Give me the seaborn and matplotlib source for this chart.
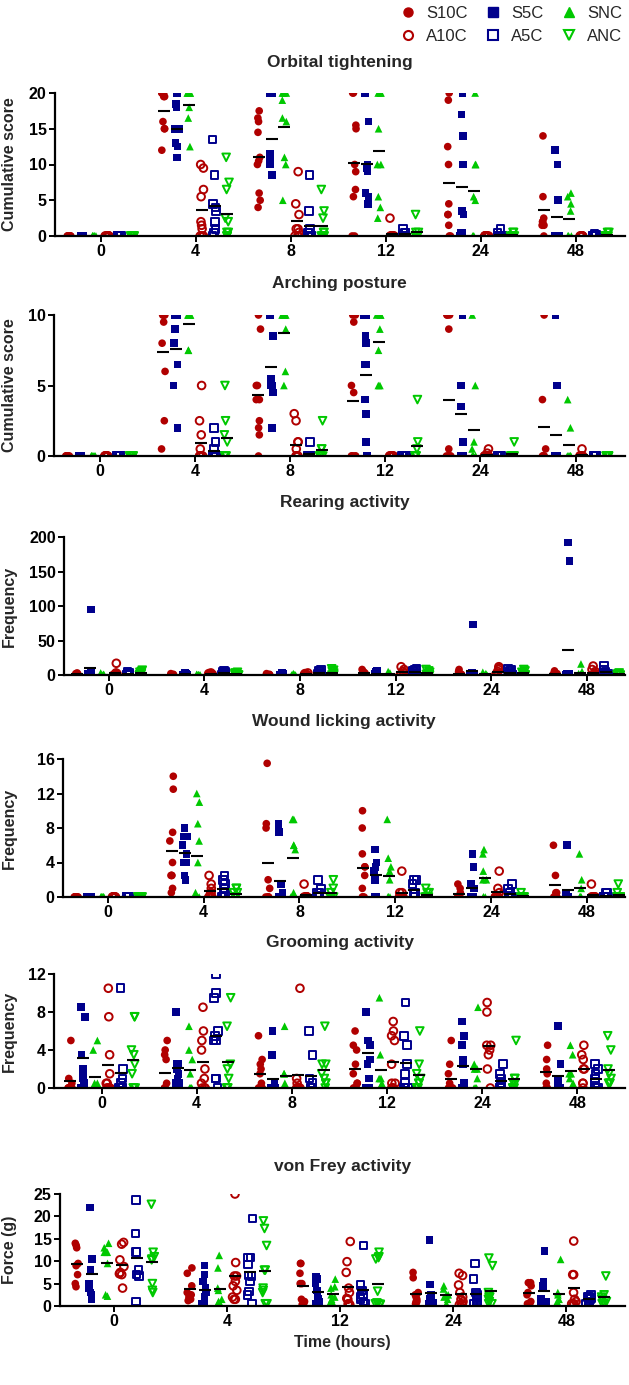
import numpy as np
import pandas as pd
import matplotlib
matplotlib.use("Agg")
import matplotlib.pyplot as plt
from matplotlib.lines import Line2D
import seaborn as sns

groups = ["S10C", "S5C", "SNC", "A10C", "A5C", "ANC"]
times6 = ["0", "4", "8", "12", "24", "48"]
times5 = ["0", "4", "12", "24", "48"]
Z8 = [0, 0, 0, 0, 0, 0, 0, 0]

# ---------------- Orbital tightening (per group: list per time point) ----------------
orb_S10C = [Z8, [20, 20, 20, 19.5, 19.5, 16, 15, 15, 12], [17.5, 16.5, 16, 14.5, 11, 10.5, 10, 6, 5, 4],
            [20, 20, 15.5, 15, 10, 9, 6.5, 5.5, 0, 0], [20, 19, 12.5, 10, 4.5, 3, 3, 1.5, 0, 0],
            [14, 5.5, 2.5, 2, 2, 1.5, 1.5, 0]]
orb_S5C = [Z8, [20, 18.5, 18, 15, 15, 15, 13, 12.5, 11, 11], [20, 20, 20, 11.5, 11, 10.5, 10, 10, 8.5],
           [20, 16, 10, 9.5, 9, 6, 5.5, 4.5], [20, 17, 14, 10, 3.5, 3, 0.5, 0.5, 0, 0],
           [12, 10, 5, 0, 0, 0, 0, 0, 0, 0]]
orb_SNC = [Z8, [20, 20, 20, 20, 20, 18, 16.5, 12.5], [20, 20, 20, 19, 16.5, 16, 11, 10, 5],
           [20, 20, 20, 15, 10, 10, 5.5, 4, 2.5], [20, 10, 10, 5.5, 5, 0, 0, 0],
           [6, 5.5, 4.5, 3.5, 0, 0, 0, 0]]
orb_A10C = [Z8, [10, 9.5, 6.5, 5.5, 2, 1.5, 1, 0, 0, 0], [9, 4.5, 3, 1, 1, 0.5, 0, 0, 0],
            [2.5, 0, 0, 0, 0, 0, 0, 0], Z8, Z8]
orb_A5C = [Z8, [13.5, 8.5, 4.5, 4, 3.5, 2, 1, 0.5, 0], [8.5, 3.5, 1, 0.5, 0.5, 0, 0, 0, 0, 0],
           [1, 0.5, 0.5, 0, 0, 0, 0, 0], [1, 0.5, 0, 0, 0, 0, 0, 0], [0.3, 0.2, 0, 0, 0, 0, 0, 0]]
orb_ANC = [Z8, [11, 7.5, 6.5, 2.5, 2, 0.5, 0.5, 0, 0, 0], [6.5, 3.5, 2.5, 0.5, 0.5, 0, 0, 0, 0, 0],
           [3, 0.5, 0.5, 0, 0, 0, 0, 0], [0.5, 0.5, 0, 0, 0, 0, 0, 0], [0.5, 0.5, 0, 0, 0, 0, 0, 0]]

# ---------------- Arching posture ----------------
arc_S10C = [Z8, [10, 10, 10, 10, 9.5, 8, 6, 2.5, 0.5], [10, 9, 5, 5, 4, 4, 2.5, 2, 1.5, 0],
            [10, 10, 9.5, 5, 4.5, 0, 0, 0, 0, 0], [10, 10, 10, 9, 0.5, 0, 0, 0, 0, 0],
            [10, 4, 0.5, 0, 0, 0, 0]]
arc_S5C = [Z8, [10, 10, 10, 9, 8, 6.5, 5, 2], [10, 10, 8.5, 5.5, 5, 5, 4.5, 2],
           [10, 10, 8.5, 8, 6.5, 6.5, 4, 3, 1, 0], [10, 10, 5, 3.5, 1, 0, 0, 0, 0, 0],
           [10, 5, 0, 0, 0, 0, 0, 0, 0, 0]]
arc_SNC = [Z8, [10, 10, 10, 10, 10, 10, 7.5, 7.5], [10, 10, 10, 10, 10, 9, 6, 5],
           [10, 10, 10, 9, 7.5, 5, 5], [10, 5, 1, 0.5, 0, 0, 0, 0, 0], [4, 2, 0, 0, 0, 0, 0, 0]]
arc_A10C = [Z8, [5, 2.5, 1.5, 0.5, 0, 0, 0, 0, 0, 0], [3, 2.5, 1, 1, 0.5, 0, 0, 0, 0, 0],
            Z8, [0.5, 0.2, 0, 0, 0, 0, 0, 0], [0.5, 0, 0, 0, 0, 0, 0, 0]]
arc_A5C = [Z8, [2, 1, 0.5, 0, 0, 0, 0, 0, 0, 0], [1, 0, 0, 0, 0, 0, 0, 0], Z8, Z8, Z8]
arc_ANC = [Z8, [5, 2.5, 1.5, 1, 0, 0, 0, 0], [2.5, 0.5, 0.5, 0, 0, 0, 0, 0],
           [4, 1, 0.5, 0, 0, 0, 0, 0], [1, 0, 0, 0, 0, 0, 0, 0], Z8]

# ---------------- Rearing activity ----------------
rea_S10C = [[3, 2, 1, 1, 0, 0, 0, 0], [2, 1, 0, 0, 0, 0, 0, 0], [2, 1, 0, 0, 0, 0, 0, 0],
            [8, 5, 3, 2, 1, 0, 0, 0], [8, 5, 2, 1, 0, 0, 0, 0], [6, 4, 2, 0, 0, 0, 0, 0]]
rea_S5C = [[95, 3, 2, 1, 1, 0, 0, 0, 0, 0], [3, 2, 1, 0, 0, 0, 0, 0], [3, 1, 0, 0, 0, 0, 0, 0],
           [6, 4, 2, 1, 0, 0, 0, 0], [73, 3, 1, 0, 0, 0, 0, 0, 0, 0, 0, 0],
           [192, 165, 2, 1, 0, 0, 0, 0, 0, 0]]
rea_SNC = [[3, 1, 0, 0, 0, 0, 0, 0], [1, 0, 0, 0, 0, 0, 0, 0], [2, 0, 0, 0, 0, 0, 0, 0],
           [5, 3, 1, 0, 0, 0, 0, 0], [4, 2, 0, 0, 0, 0, 0, 0], [16, 5, 2, 0, 0, 0, 0, 0]]
rea_A10C = [[17, 3, 2, 2, 1, 0, 0, 0], [3, 2, 1, 0, 0, 0, 0, 0], [3, 2, 1, 0, 0, 0, 0, 0],
            [12, 8, 5, 3, 1, 0, 0, 0], [12, 10, 8, 5, 3, 1, 0, 0], [13, 8, 5, 2, 0, 0, 0, 0]]
rea_A5C = [[4, 3, 2, 1, 0, 0, 0, 0], [6, 5, 4, 2, 1, 0, 0, 0], [8, 6, 4, 2, 1, 0, 0, 0],
           [9, 8, 6, 4, 2, 1, 0, 0], [9, 8, 6, 3, 1, 0, 0, 0], [14, 8, 5, 2, 1, 0, 0, 0]]
rea_ANC = [[7, 5, 4, 3, 2, 1, 0, 0], [4, 3, 2, 1, 0, 0, 0, 0], [9, 7, 5, 3, 1, 0, 0, 0],
           [8, 6, 4, 2, 1, 0, 0, 0], [8, 6, 4, 2, 0, 0, 0, 0], [3, 2, 1, 0, 0, 0, 0, 0]]

# ---------------- Wound licking activity ----------------
wou_S10C = [Z8, [14, 12.5, 7.5, 6.5, 4, 2.5, 2.5, 2.5, 1, 0.5], [15.5, 8.5, 8, 2, 1, 0, 0, 0, 0],
            [10, 8, 5, 3.5, 3.5, 2.5, 1, 0, 0, 0], [1.5, 1, 0.5, 0, 0, 0, 0, 0],
            [6, 2.5, 0.5, 0.5, 0, 0, 0]]
wou_S5C = [Z8, [8, 7, 7, 6, 5, 4, 4, 2.5, 2], [8.5, 7.5, 1.5, 0.5, 0, 0, 0, 0, 0, 0],
           [5.5, 4, 3.5, 3, 2.5, 2, 2, 0, 0], [5, 3.5, 1.5, 1, 0, 0, 0, 0, 0, 0],
           [6, 0.5, 0.5, 0, 0, 0, 0, 0, 0]]
wou_SNC = [Z8, [12, 11, 8.5, 6.5, 4, 0.5, 0, 0, 0], [9, 9, 6, 6, 5.5, 0.5, 0, 0],
           [9, 4.5, 3.5, 3, 2, 0, 0, 0, 0], [5.5, 5, 3, 2, 2, 0, 0, 0], [5, 2, 1, 0, 0, 0, 0, 0]]
wou_A10C = [Z8, [2.5, 1.5, 1, 0.5, 0.5, 0, 0, 0, 0], [1.5, 0, 0, 0, 0, 0, 0, 0],
            [3, 0.5, 0.5, 0, 0, 0, 0, 0], [3, 1, 0.5, 0, 0, 0, 0, 0], [1.5, 0, 0, 0, 0, 0, 0, 0]]
wou_A5C = [Z8, [2.5, 2, 1.5, 1, 0.5, 0.5, 0, 0, 0], [2, 1, 0.5, 0.5, 0, 0, 0, 0],
           [2, 2, 1.5, 0.5, 0.5, 0, 0, 0], [1.5, 1, 0.5, 0, 0, 0, 0, 0], [0.5, 0.5, 0, 0, 0, 0, 0, 0]]
wou_ANC = [Z8, [1, 1, 0.5, 0.5, 0, 0, 0, 0], [2, 1, 0.5, 0, 0, 0, 0, 0],
           [1, 0.5, 0.5, 0, 0, 0, 0, 0], [0.5, 0, 0, 0, 0, 0, 0, 0], [1.5, 0.5, 0, 0, 0, 0, 0, 0]]

# ---------------- Grooming activity ----------------
gro_S10C = [[5, 1, 0.5, 0, 0, 0, 0, 0, 0], [5, 4, 3.5, 3, 0.5, 0, 0, 0, 0, 0],
            [5.5, 3, 2.5, 2, 1.5, 0.5, 0, 0, 0, 0], [6, 4.5, 4, 2.5, 1.5, 0.5, 0.5, 0, 0, 0],
            [5, 2.5, 1.5, 0.5, 0, 0, 0, 0, 0, 0], [4.5, 3, 2, 1.5, 0.5, 0, 0]]
gro_S5C = [[8.5, 7.5, 3.5, 3.5, 2, 1.5, 1, 0.5, 0], [8, 2.5, 2.5, 2, 1.5, 1, 0.5, 0.5, 0],
           [6, 3.5, 0.5, 0, 0, 0, 0, 0, 0, 0], [8, 8, 5, 4.5, 4.5, 3, 2.5, 1, 0, 0],
           [7, 5.5, 4.5, 3, 2.5, 0.5, 0, 0, 0, 0], [6.5, 2.5, 1, 0.5, 0.5, 0, 0, 0, 0]]
gro_SNC = [[5, 4, 0.5, 0.5, 0, 0, 0, 0, 0], [6.5, 4, 3, 1.5, 0, 0, 0, 0],
           [6.5, 1.5, 1.5, 0.5, 0, 0, 0, 0], [9.5, 3.5, 1, 1, 0.5, 0, 0, 0],
           [8.5, 2.5, 2, 2, 1, 0, 0, 0], [4.5, 3.5, 1.5, 1.5, 1, 0.5, 0]]
gro_A10C = [[10.5, 7.5, 3.5, 1.5, 0.5, 0.5, 0, 0, 0, 0], [8.5, 6, 5, 4, 2, 1, 0.5, 0, 0, 0],
            [10.5, 1, 0.5, 0, 0, 0, 0, 0, 0], [7, 6, 5.5, 5, 2.5, 0.5, 0.5, 0, 0, 0],
            [9, 8, 4.5, 4.5, 4, 3.5, 2, 0], [4.5, 3.5, 3, 2, 2, 0.5, 0.5, 0]]
gro_A5C = [[10.5, 2, 1, 0.5, 0, 0, 0, 0, 0], [12, 10, 9.5, 6, 5.5, 5, 5, 1, 1, 0],
           [6, 3.5, 1, 0.5, 0, 0, 0, 0, 0], [9, 5.5, 4.5, 2.5, 1.5, 0.5, 0, 0, 0],
           [2.5, 1.5, 1, 0.5, 0.5, 0, 0, 0], [2.5, 2, 1.5, 1, 0.5, 0, 0, 0]]
gro_ANC = [[7.5, 7.5, 4, 3.5, 2.5, 1.5, 0, 0, 0], [9.5, 6.5, 2.5, 2, 1, 0, 0, 0],
           [6.5, 2.5, 2.5, 1.5, 1, 0.5, 0.5, 0], [6, 2.5, 1.5, 1, 0.5, 0.5, 0, 0, 0],
           [5, 1, 1, 0.5, 0.5, 0, 0, 0], [5.5, 4, 2, 1.5, 1, 0.5, 0.5, 0.5]]

# ---------------- von Frey activity (time points 0, 4, 12, 24, 48) ----------------
vf_S10C = [[13.5, 14, 13, 9.5, 9, 7, 5, 4.3], [8.5, 7.3, 4.5, 3, 2.5, 2, 1.5, 1.2],
           [9.5, 9.5, 7.3, 5, 5, 1.5, 1, 0.5, 0.3], [7.5, 6.3, 3, 2.5, 2, 1.5, 1, 1, 0.5, 0.5],
           [5.2, 5.2, 4.5, 3, 2.5, 1, 0.5, 0.5]]
vf_S5C = [[22, 10.5, 8, 5, 4, 3, 2.5, 1.5], [9, 7, 5.5, 4, 3, 2, 1, 0.5, 0.5],
          [6.5, 6, 5, 3.5, 2.5, 1.5, 1, 1, 0.5], [14.8, 4.8, 2.5, 1.5, 1, 0.8, 0.5, 0.5, 0.5],
          [12.3, 5.5, 4.5, 1.5, 1, 0.5, 0.5, 0.3]]
vf_SNC = [[14, 13, 12, 12, 12, 9.5, 2.5, 2.2], [11.3, 8.5, 4, 3.5, 1.5, 1, 0.6, 0.5],
          [6, 4.3, 4, 2.5, 2, 1.5, 1, 0.5], [4.5, 3.8, 2.5, 2.5, 2, 1.5, 0.5],
          [10.4, 3, 2.5, 1.5, 1, 0.5, 0.5]]
vf_A10C = [[14.2, 13.8, 10.3, 8.8, 7.5, 7.2, 7, 4], [25, 9.7, 6.7, 6.7, 5.5, 4.5, 3.5, 2, 1.5, 1.5],
           [14.4, 9.9, 7.5, 4, 3, 1.7, 1.5, 0.5, 0.5, 0.3], [7.3, 6.8, 4.7, 3, 2, 1.5, 1, 0.5, 0.4, 0.3],
           [14.5, 7, 7, 3, 1.5, 1, 0.5, 0.5, 0.3]]
vf_A5C = [[23.7, 16.2, 12, 12, 8, 7, 6.7, 1], [19.5, 10.8, 10.8, 9.3, 6.8, 6.7, 5.5, 3.2, 2.5, 0.5],
          [13.5, 4.7, 3.5, 2.5, 2, 1.5, 1, 0.5], [9.5, 6, 3, 2.5, 2, 1.5, 1, 0.5, 0.5, 0.3],
          [2.5, 2, 2, 1.8, 1.5, 1, 0.5, 0.5]]
vf_ANC = [[22.7, 12, 11, 10.5, 10.3, 5, 3.5, 3], [19, 17.3, 13.5, 8, 8, 4, 3.5, 3, 0.5, 0.5],
          [12, 11, 10.8, 10.5, 3.3, 0.7, 0.5, 0.5, 0.4, 0.3], [10.7, 9, 3, 2.5, 2, 2, 1.5, 1, 0.5, 0.5],
          [6.7, 2.5, 2, 1.5, 1.5, 1, 0.5, 0.5]]

# ---------------- styling ----------------
sns.set_style("ticks")
plt.rcParams["font.family"] = ["Liberation Sans", "DejaVu Sans"]

colors = {"S10C": "#B00000", "A10C": "#B00000", "S5C": "#00008C", "A5C": "#00008C",
          "SNC": "#00C800", "ANC": "#00C800"}
markers = {"S10C": "o", "S5C": "s", "SNC": "^", "A10C": "o", "A5C": "s", "ANC": "v"}
open_groups = {"A10C", "A5C", "ANC"}


def long_df(times, series):
    rows = []
    for g, per_time in zip(groups, series):
        for t, vals in zip(times, per_time):
            for v in vals:
                rows.append((t, g, v))
    return pd.DataFrame(rows, columns=["time", "group", "value"])


W, H = 629, 1385
fig = plt.figure(figsize=(W / 100, H / 100), dpi=100)

panels = [
    ("Orbital tightening", "Cumulative score", times6,
     [orb_S10C, orb_S5C, orb_SNC, orb_A10C, orb_A5C, orb_ANC], [0, 5, 10, 15, 20],
     55, 93, 236, (-0.48, 5.52), 62),
    ("Arching posture", "Cumulative score", times6,
     [arc_S10C, arc_S5C, arc_SNC, arc_A10C, arc_A5C, arc_ANC], [0, 5, 10],
     54, 315, 456, (-0.48, 5.52), 283),
    ("Rearing activity", "Frequency", times6,
     [rea_S10C, rea_S5C, rea_SNC, rea_A10C, rea_A5C, rea_ANC], [0, 50, 100, 150, 200],
     64, 537, 675, (-0.47, 5.40), 502),
    ("Wound licking activity", "Frequency", times6,
     [wou_S10C, wou_S5C, wou_SNC, wou_A10C, wou_A5C, wou_ANC], [0, 4, 8, 12, 16],
     63, 759, 897, (-0.47, 5.40), 721),
    ("Grooming activity", "Frequency", times6,
     [gro_S10C, gro_S5C, gro_SNC, gro_A10C, gro_A5C, gro_ANC], [0, 4, 8, 12],
     54, 974, 1088, (-0.50, 5.50), 942),
    ("von Frey activity", "Force (g)", times5,
     [vf_S10C, vf_S5C, vf_SNC, vf_A10C, vf_A5C, vf_ANC], [0, 5, 10, 15, 20, 25],
     60, 1194, 1306, (-0.48, 4.52), 1166),
]

np.random.seed(3)
right_px = 625
for i, (title, ylab, times, series, yticks, left, top, zero, xlim, title_y) in enumerate(panels):
    ax = fig.add_axes([left / W, 1 - zero / H, (right_px - left) / W, (zero - top) / H])
    df = long_df(times, series)
    for g in groups:
        n0 = len(ax.collections)
        sns.stripplot(data=df[df["group"] == g], x="time", y="value", hue="group",
                      hue_order=groups, order=times, dodge=True, jitter=0.14,
                      marker=markers[g], palette=colors, size=5.5, linewidth=0,
                      legend=False, ax=ax, zorder=2)
        if g in open_groups:
            for c in ax.collections[n0:]:
                c.set_facecolor("none")
                c.set_edgecolor(colors[g])
                c.set_linewidth(1.4)
    sns.pointplot(data=df, x="time", y="value", hue="group", hue_order=groups, order=times,
                  dodge=0.8 * 5 / 6, palette={g: "black" for g in groups}, markers="_",
                  linestyle="none", errorbar=None, markersize=8, markeredgewidth=1.5,
                  legend=False, ax=ax, zorder=5)
    ax.set_xlim(*xlim)
    ax.set_ylim(0, yticks[-1])
    ax.set_yticks(yticks)
    ax.set_yticklabels([str(t) for t in yticks])
    sns.despine(ax=ax)
    for s in ("left", "bottom"):
        ax.spines[s].set_linewidth(1.6)
        ax.spines[s].set_color("black")
    ax.tick_params(axis="both", direction="out", length=4, width=1.4, labelsize=11.5,
                   colors="black", pad=2)
    plt.setp(ax.get_xticklabels(), fontweight="bold")
    plt.setp(ax.get_yticklabels(), fontweight="bold")
    ax.set_ylabel(ylab, fontsize=11.5, fontweight="bold")
    ax.yaxis.set_label_coords((17 - left) / (right_px - left), 0.5)
    ax.set_xlabel("Time (hours)" if i == len(panels) - 1 else "", fontsize=11.5, fontweight="bold")
    pad_px = top - (title_y + 5)
    ax.set_title(title, fontsize=12.5, fontweight="bold", pad=pad_px * 0.72)

handles = []
labels = []
for g in ["S10C", "A10C", "S5C", "A5C", "SNC", "ANC"]:
    if g in open_groups:
        h = Line2D([], [], linestyle="none", marker=markers[g], markersize=6.5,
                   markerfacecolor="none", markeredgecolor=colors[g], markeredgewidth=1.5)
    else:
        h = Line2D([], [], linestyle="none", marker=markers[g], markersize=6.5,
                   markerfacecolor=colors[g], markeredgecolor=colors[g])
    handles.append(h)
    labels.append(g)
fig.legend(handles, labels, ncol=3, loc="upper right", bbox_to_anchor=(1.005, 1.003),
           frameon=False, fontsize=12, handlelength=1.0, handletextpad=0.6,
           columnspacing=1.0, labelspacing=0.5, borderaxespad=0.2)

fig.savefig("out.png", dpi=100)
